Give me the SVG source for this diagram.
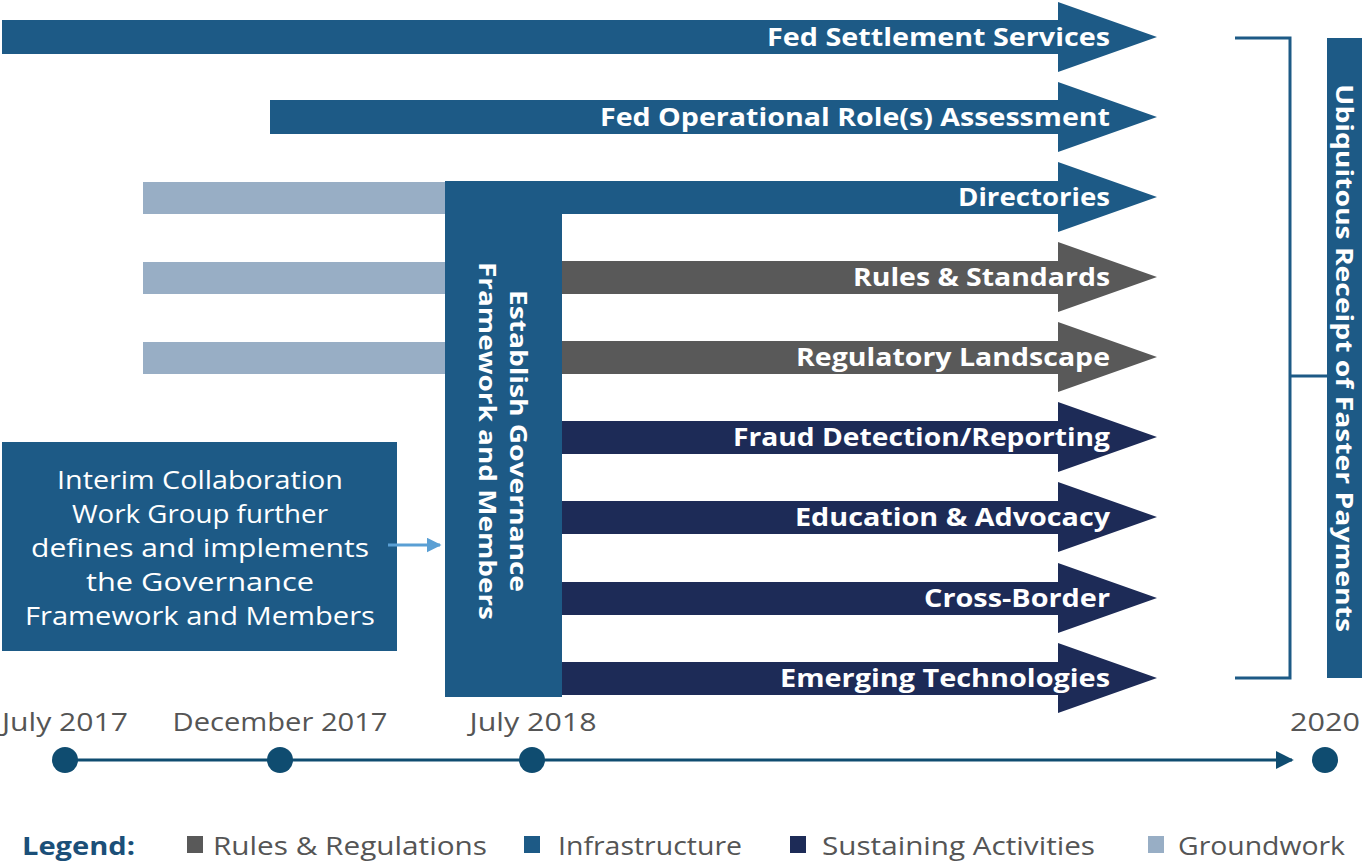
<svg xmlns="http://www.w3.org/2000/svg" width="1362" height="861" viewBox="0 0 1362 861">
<style>
.lbl{font-family:"Open Sans","Liberation Sans",Arial,sans-serif;font-weight:bold;font-size:25px;fill:#fff;text-anchor:end}
.infra{fill:#1d5a86}
.rules{fill:#595959}
.sust{fill:#1d2b57}
.ground{fill:#98aec5}
.date{font-family:"Open Sans","Liberation Sans",Arial,sans-serif;font-size:25px;fill:#555;text-anchor:middle}
.leg{font-family:"Open Sans","Liberation Sans",Arial,sans-serif;font-size:25px;fill:#555}
.vt{font-family:"Open Sans","Liberation Sans",Arial,sans-serif;font-weight:bold;font-size:24px;fill:#fff;text-anchor:middle}
.it{font-family:"Open Sans","Liberation Sans",Arial,sans-serif;font-size:25px;fill:#fff;text-anchor:middle}
.dot{fill:#0f4c70}
</style>
<defs>
<marker id="ah" viewBox="0 0 10 10" refX="9" refY="5" markerWidth="6" markerHeight="6" orient="auto" markerUnits="strokeWidth"><path d="M0,0 L10,5 L0,10 z" fill="#0f4c70"/></marker>
<marker id="ah2" viewBox="0 0 10 10" refX="9" refY="5" markerWidth="5" markerHeight="5" orient="auto" markerUnits="strokeWidth"><path d="M0,0 L10,5 L0,10 z" fill="#5a9fd4"/></marker>
</defs>
<rect width="1362" height="861" fill="#fff"/>

<g id="groundwork">
<rect class="ground" x="143" y="182" width="302" height="32"/>
<rect class="ground" x="143" y="262" width="302" height="32"/>
<rect class="ground" x="143" y="342" width="302" height="32"/>
</g>

<g id="fed-settlement">
<path class="infra" d="M2,20 H1058 V2 L1157,37 L1058,72 V54 H2 Z"/>
<text class="lbl" x="1110" y="46" textLength="343" lengthAdjust="spacingAndGlyphs">Fed Settlement Services</text>
</g>
<g id="fed-operational">
<path class="infra" d="M270,100 H1058 V82 L1157,117 L1058,152 V134 H270 Z"/>
<text class="lbl" x="1110" y="126" textLength="510" lengthAdjust="spacingAndGlyphs">Fed Operational Role(s) Assessment</text>
</g>
<g id="directories">
<path class="infra" d="M445,181 H1058 V162 L1157,197 L1058,232 V214 H445 Z"/>
<text class="lbl" x="1110" y="206" textLength="152" lengthAdjust="spacingAndGlyphs">Directories</text>
</g>
<g id="rules-standards">
<path class="rules" d="M562,261 H1058 V242 L1157,277 L1058,312 V294 H562 Z"/>
<text class="lbl" x="1110" y="286" textLength="257" lengthAdjust="spacingAndGlyphs">Rules &amp; Standards</text>
</g>
<g id="regulatory">
<path class="rules" d="M562,341 H1058 V322 L1157,357 L1058,392 V374 H562 Z"/>
<text class="lbl" x="1110" y="366" textLength="314" lengthAdjust="spacingAndGlyphs">Regulatory Landscape</text>
</g>
<g id="fraud">
<path class="sust" d="M562,421 H1058 V402 L1157,437 L1058,472 V454 H562 Z"/>
<text class="lbl" x="1110" y="446" textLength="377" lengthAdjust="spacingAndGlyphs">Fraud Detection/Reporting</text>
</g>
<g id="education">
<path class="sust" d="M562,501 H1058 V482 L1157,517 L1058,552 V534 H562 Z"/>
<text class="lbl" x="1110" y="526" textLength="315" lengthAdjust="spacingAndGlyphs">Education &amp; Advocacy</text>
</g>
<g id="cross-border">
<path class="sust" d="M562,582 H1058 V563 L1157,598 L1058,633 V615 H562 Z"/>
<text class="lbl" x="1110" y="607" textLength="186" lengthAdjust="spacingAndGlyphs">Cross-Border</text>
</g>
<g id="emerging">
<path class="sust" d="M562,662 H1058 V643 L1157,678 L1058,713 V695 H562 Z"/>
<text class="lbl" x="1110" y="687" textLength="330" lengthAdjust="spacingAndGlyphs">Emerging Technologies</text>
</g>

<g id="governance">
<rect class="infra" x="445" y="181" width="117" height="516"/>
<text class="vt" transform="translate(510,441) rotate(90)" textLength="302" lengthAdjust="spacingAndGlyphs">Establish Governance</text>
<text class="vt" transform="translate(479,441) rotate(90)" textLength="358" lengthAdjust="spacingAndGlyphs">Framework and Members</text>
</g>

<g id="interim">
<rect class="infra" x="2" y="442" width="395" height="209"/>
<text class="it" x="200" y="489" textLength="286" lengthAdjust="spacingAndGlyphs">Interim Collaboration</text>
<text class="it" x="200" y="523" textLength="256" lengthAdjust="spacingAndGlyphs">Work Group further</text>
<text class="it" x="200" y="557" textLength="338" lengthAdjust="spacingAndGlyphs">defines and implements</text>
<text class="it" x="200" y="591" textLength="228" lengthAdjust="spacingAndGlyphs">the Governance</text>
<text class="it" x="200" y="625" textLength="350" lengthAdjust="spacingAndGlyphs">Framework and Members</text>
</g>

<g id="ubiquitous">
<rect class="infra" x="1327" y="38" width="35" height="640"/>
<text class="vt" transform="translate(1336,358) rotate(90)" textLength="548" lengthAdjust="spacingAndGlyphs">Ubiquitous Receipt of Faster Payments</text>
</g>

<g id="connectors" fill="none">
<line x1="388" y1="545" x2="440" y2="545" stroke="#5a9fd4" stroke-width="3" marker-end="url(#ah2)"/>
<path d="M1235,38 H1290 V678 H1235 M1290,376 H1327" stroke="#1d5a86" stroke-width="3"/>
<line x1="65" y1="760" x2="1292" y2="760" stroke="#0f4c70" stroke-width="3" marker-end="url(#ah)"/>
</g>

<g id="timeline">
<circle class="dot" cx="65" cy="760" r="13"/>
<circle class="dot" cx="280" cy="760" r="13"/>
<circle class="dot" cx="532" cy="760" r="13"/>
<circle class="dot" cx="1325" cy="760" r="13"/>
<text class="date" x="65" y="731" textLength="126" lengthAdjust="spacingAndGlyphs">July 2017</text>
<text class="date" x="280" y="731" textLength="215" lengthAdjust="spacingAndGlyphs">December 2017</text>
<text class="date" x="533" y="731" textLength="127" lengthAdjust="spacingAndGlyphs">July 2018</text>
<text class="date" x="1325" y="731" textLength="70" lengthAdjust="spacingAndGlyphs">2020</text>
</g>

<g id="legend">
<text x="22" y="855" font-family="Open Sans, Liberation Sans, Arial, sans-serif" font-weight="bold" font-size="25" fill="#1b4f78" textLength="113" lengthAdjust="spacingAndGlyphs">Legend:</text>
<rect class="rules" x="187" y="836" width="16" height="17"/>
<text class="leg" x="213" y="855" textLength="274" lengthAdjust="spacingAndGlyphs">Rules &amp; Regulations</text>
<rect class="infra" x="524" y="836" width="16" height="17"/>
<text class="leg" x="558" y="855" textLength="184" lengthAdjust="spacingAndGlyphs">Infrastructure</text>
<rect class="sust" x="790" y="836" width="16" height="17"/>
<text class="leg" x="822" y="855" textLength="273" lengthAdjust="spacingAndGlyphs">Sustaining Activities</text>
<rect class="ground" x="1148" y="836" width="16" height="17"/>
<text class="leg" x="1178" y="855" textLength="167" lengthAdjust="spacingAndGlyphs">Groundwork</text>
</g>
</svg>
